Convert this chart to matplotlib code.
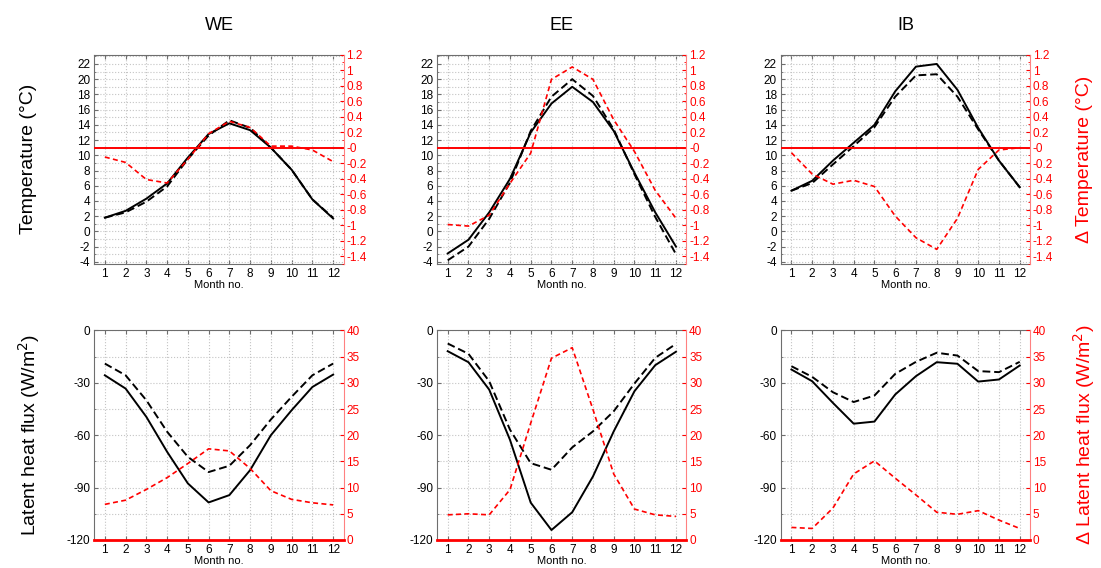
"""
Seasonal cycle of temperature and latent heat flux for three regions
(WE, EE, IB): control vs. experiment (black) and their difference (red).
"""
import numpy as np
import matplotlib
matplotlib.use("Agg")
import matplotlib.pyplot as plt
from matplotlib.ticker import MultipleLocator

plt.rcParams["font.family"] = ["Liberation Sans", "DejaVu Sans"]
plt.rcParams["axes.unicode_minus"] = False

MONTHS = np.arange(1, 13)
REGIONS = ["WE", "EE", "IB"]

# --- temperature (deg C): solid = run A, dashed = run B, red = difference
temp_we_solid = [1.8, 2.7, 4.3, 6.3, 9.7, 12.8, 14.2, 13.3, 11.0, 8.1, 4.2, 1.7]
temp_we_dash = [1.8, 2.5, 3.9, 5.9, 9.5, 12.6, 14.6, 13.6, 11.0, 8.1, 4.2, 1.8]
temp_we_diff = [-0.12, -0.19, -0.41, -0.455, -0.15, 0.18, 0.34, 0.26, 0.02, 0.02, -0.03, -0.18]

temp_ee_solid = [-2.9, -1.1, 2.5, 6.9, 13.0, 16.8, 19.0, 17.0, 13.2, 7.7, 2.5, -2.0]
temp_ee_dash = [-3.8, -2.0, 1.65, 6.4, 13.2, 17.7, 20.0, 17.8, 13.4, 7.5, 1.9, -3.0]
temp_ee_diff = [-0.99, -1.01, -0.87, -0.46, -0.07, 0.88, 1.04, 0.88, 0.36, -0.05, -0.55, -0.91]

temp_ib_solid = [5.35, 6.65, 9.3, 11.65, 14.0, 18.4, 21.65, 22.0, 18.6, 13.6, 9.3, 5.8]
temp_ib_dash = [5.35, 6.35, 8.8, 11.2, 13.7, 17.7, 20.5, 20.65, 17.7, 13.4, 9.3, 5.8]
temp_ib_diff = [-0.065, -0.34, -0.47, -0.42, -0.5, -0.88, -1.16, -1.31, -0.91, -0.28, -0.03, 0.0]

# --- latent heat flux (W/m2)
lhf_we_solid = [-25.7, -33.3, -49.5, -69.5, -87.6, -98.5, -94.3, -80.0, -60.0, -45.7, -32.4, -25.3]
lhf_we_dash = [-19.0, -25.7, -40.0, -58.0, -72.4, -81.1, -77.5, -65.7, -51.0, -38.0, -25.7, -19.0]
lhf_we_diff = [6.8, 7.6, 9.65, 11.9, 14.6, 17.4, 17.0, 13.65, 9.4, 7.75, 7.1, 6.7]

lhf_ee_solid = [-11.9, -18.2, -33.9, -62.6, -98.6, -114.3, -104.1, -83.6, -57.8, -34.8, -19.9, -12.2]
lhf_ee_dash = [-7.5, -13.4, -29.1, -56.8, -76.0, -79.8, -67.0, -57.8, -46.3, -30.4, -15.7, -7.7]
lhf_ee_diff = [4.8, 5.0, 4.8, 9.6, 22.3, 34.7, 36.7, 24.9, 12.6, 5.9, 4.8, 4.5]

lhf_ib_solid = [-22.4, -29.1, -41.5, -53.4, -52.2, -36.7, -26.2, -18.2, -19.1, -29.3, -28.1, -20.1]
lhf_ib_dash = [-20.5, -26.6, -35.4, -41.0, -37.3, -24.9, -18.0, -12.8, -14.4, -23.3, -23.9, -18.0]
lhf_ib_diff = [2.4, 2.2, 6.1, 12.6, 15.1, 11.8, 8.6, 5.3, 4.9, 5.6, 3.8, 2.2]

TEMP = [
    (temp_we_solid, temp_we_dash, temp_we_diff),
    (temp_ee_solid, temp_ee_dash, temp_ee_diff),
    (temp_ib_solid, temp_ib_dash, temp_ib_diff),
]
LHF = [
    (lhf_we_solid, lhf_we_dash, lhf_we_diff),
    (lhf_ee_solid, lhf_ee_dash, lhf_ee_diff),
    (lhf_ib_solid, lhf_ib_dash, lhf_ib_diff),
]

RED = "#ff0000"
FRAME = "#6e6e6e"
GRID = "#c4c4c4"

LEFTS = [0.0858, 0.3972, 0.7094]
WIDTH = 0.2262
ROW_BOTTOMS = [0.535, 0.0493]
HEIGHT = 0.369

# temperature: left = 11 + k * right so that diff=0 sits on T=11
K = 10.2
TEMP_DIFF_LIM = (-1.5, 1.2)
TEMP_LIM = (11 + K * TEMP_DIFF_LIM[0], 11 + K * TEMP_DIFF_LIM[1])


def style_axes(ax, ax2):
    ax.set_xlim(0.5, 12.5)
    ax.set_xticks(MONTHS)
    ax.tick_params(axis="both", which="both", direction="in", top=True,
                   labelsize=8.5, color=FRAME, pad=3)
    ax.tick_params(which="major", length=3)
    ax.tick_params(which="minor", length=1.5)
    ax.tick_params(axis="x", which="minor", top=False, bottom=False)
    ax.grid(True, which="both", linestyle=":", color=GRID, linewidth=0.8)
    for side in ("left", "top", "bottom"):
        ax.spines[side].set_color(FRAME)
    ax.spines["right"].set_visible(False)
    for side in ("left", "top", "bottom"):
        ax2.spines[side].set_visible(False)
    ax2.spines["right"].set_color("#ff8080")
    ax2.tick_params(axis="y", which="both", direction="in", colors=RED,
                    labelsize=8.5, pad=2)
    ax2.tick_params(which="major", length=3)
    ax2.tick_params(which="minor", length=1.5)
    ax.set_xlabel("Month no.", fontsize=8, labelpad=0)


def draw_panel(ax, solid, dash, diff):
    ax.plot(MONTHS, solid, color="black", lw=1.4, zorder=3)
    ax.plot(MONTHS, dash, color="black", lw=1.4, ls=(0, (4, 2)), zorder=3)


def main():
    fig = plt.figure(figsize=(11.01, 5.68), dpi=100)

    for i, region in enumerate(REGIONS):
        # top row: temperature
        ax = fig.add_axes([LEFTS[i], ROW_BOTTOMS[0], WIDTH, HEIGHT])
        ax2 = ax.twinx()
        solid, dash, diff = TEMP[i]
        draw_panel(ax, solid, dash, diff)
        ax2.axhline(0, color=RED, lw=1.4)
        ax2.plot(MONTHS, diff, color=RED, lw=1.2, ls=(0, (3, 2)))
        ax.set_ylim(*TEMP_LIM)
        ax.set_yticks(np.arange(-4, 23, 2))
        ax.yaxis.set_minor_locator(MultipleLocator(1))
        ax2.set_ylim(*TEMP_DIFF_LIM)
        diff_ticks = np.round(np.arange(-1.4, 1.21, 0.2), 1)
        ax2.set_yticks(diff_ticks)
        ax2.set_yticklabels([f"{v:g}" for v in diff_ticks])
        ax2.yaxis.set_minor_locator(MultipleLocator(0.1))
        style_axes(ax, ax2)
        ax.set_title(region, fontsize=13, pad=18)

        # bottom row: latent heat flux
        bx = fig.add_axes([LEFTS[i], ROW_BOTTOMS[1], WIDTH, HEIGHT])
        bx2 = bx.twinx()
        solid, dash, diff = LHF[i]
        draw_panel(bx, solid, dash, diff)
        bx2.axhline(0, color=RED, lw=2.0, clip_on=False, zorder=5)
        bx2.plot(MONTHS, diff, color=RED, lw=1.2, ls=(0, (3, 2)))
        bx.set_ylim(-120, 0)
        bx.set_yticks(np.arange(-120, 1, 30))
        bx.yaxis.set_minor_locator(MultipleLocator(15))
        bx2.set_ylim(0, 40)
        bx2.set_yticks(np.arange(0, 41, 5))
        style_axes(bx, bx2)

    top_mid = ROW_BOTTOMS[0] + HEIGHT / 2
    bot_mid = ROW_BOTTOMS[1] + HEIGHT / 2
    fig.text(0.026, top_mid, "Temperature (°C)",
             rotation=90, ha="center", va="center", fontsize=14)
    fig.text(0.026, bot_mid, "Latent heat flux (W/m$^2$)",
             rotation=90, ha="center", va="center", fontsize=14)
    fig.text(0.985, top_mid, "Δ Temperature (°C)",
             rotation=90, ha="center", va="center", fontsize=14, color=RED)
    fig.text(0.985, bot_mid, "Δ Latent heat flux (W/m$^2$)",
             rotation=90, ha="center", va="center", fontsize=14, color=RED)

    fig.savefig("out.png", dpi=100)
    plt.close(fig)


if __name__ == "__main__":
    main()
